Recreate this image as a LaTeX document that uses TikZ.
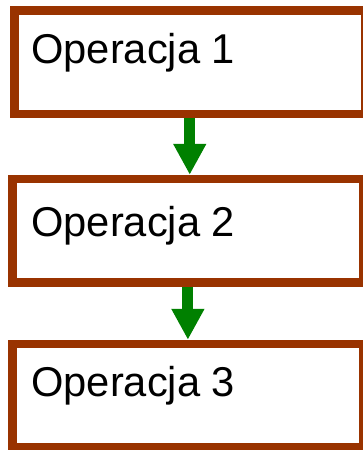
\documentclass[tikz,border=0pt]{standalone}
\usepackage{fontspec}
\setmainfont{Liberation Sans}
\usetikzlibrary{arrows.meta}

\definecolor{opbrown}{RGB}{153,51,0}
\definecolor{opgreen}{RGB}{0,128,0}

\tikzset{
  opbox/.style={rectangle, draw=opbrown, line width=6.4pt, fill=white,
    minimum width=263.25pt, minimum height=77.6pt, inner sep=0pt},
  optext/.style={anchor=base west, inner sep=0pt,
    font=\fontsize{31.25pt}{36pt}\selectfont},
  flow/.style={draw=opgreen, line width=8.25pt,
    -{Triangle[width=23.25pt,length=23.25pt]}}
}

\begin{document}
\begin{tikzpicture}[x=0.75pt,y=0.75pt,yscale=-1,xscale=1]
\useasboundingbox (0,0) rectangle (363,450);
\clip (0,0) rectangle (363,450);

%Shape: Rectangle [op1]
\node [opbox] (op1) at (189.75,62.25) {};
%Shape: Rectangle [op2]
\node [opbox] (op2) at (187.9,230.75) {};
%Shape: Rectangle [op3]
\node [opbox] (op3) at (187.9,395.75) {};

%Straight Lines [op1 -> op2]
\draw [flow] (op1.south) -- (op1.south |- op2.north);
%Straight Lines [op2 -> op3]
\draw [flow] (op2.south) -- (op2.south |- op3.north);

% Text Node
\node [optext] (t1) at (31,63) {Operacja 1};
% Text Node
\node [optext] (t2) at (31,236) {Operacja 2};
% Text Node
\node [optext] (t3) at (31,396) {Operacja 3};

\end{tikzpicture}
\end{document}
